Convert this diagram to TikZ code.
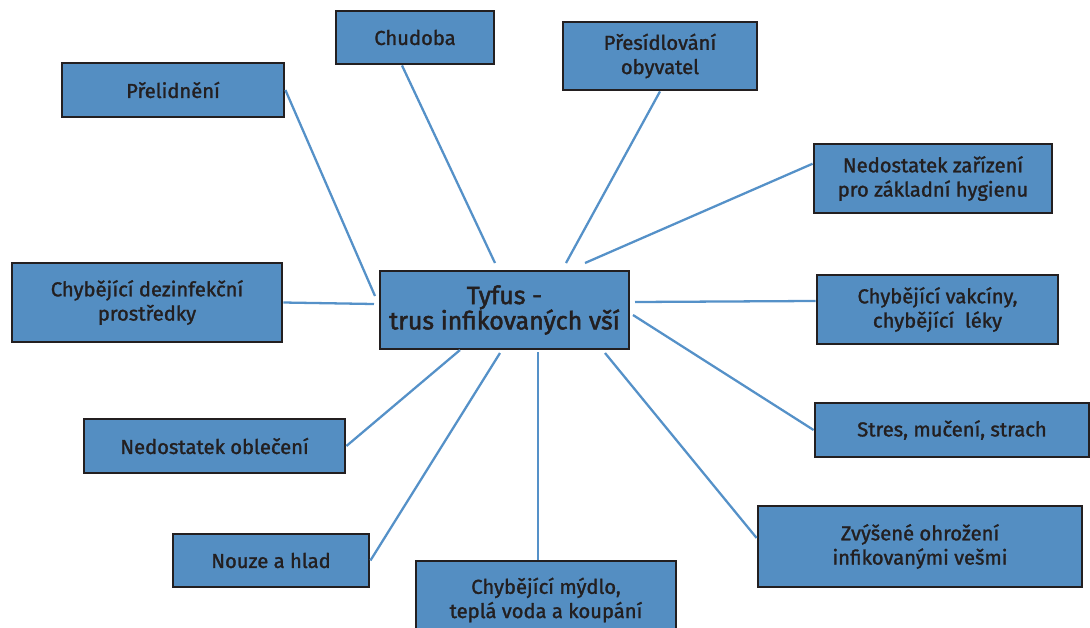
\documentclass[tikz,border=0pt]{standalone}
\usepackage{fontspec}
\setmainfont{Fira Sans}[FakeBold=1.4]
\newfontfamily\titrefont{Fira Sans}[FakeBold=2]
\definecolor{boite}{RGB}{84,142,194}
\definecolor{trait}{RGB}{85,145,200}
\definecolor{encre}{RGB}{35,31,32}
\begin{document}
\begin{tikzpicture}[x=0.02cm, y=-0.02cm]
			\tikzset{cause/.style={rectangle, draw=encre, fill=boite, line width=1.6pt, text=encre, align=center, inner sep=0pt, font=\fontsize{11.5}{13.8}\selectfont},
			lien/.style={draw=trait, line width=1.3pt}};

			\clip (0,0) rectangle (1090,627);

			\node[cause, minimum width=4.98cm, minimum height=1.56cm, font=\titrefont\fontsize{14.2}{14.4}\selectfont] (hub) at (504.5,310) {Tyfus -\\trus infikovaných vší};

			\foreach \name/\x/\y/\w/\h/\txt in {chud/415/37.5/158/53/Chudoba, prel/173/90/222/54/Přelidnění,
				pres/660/56/194/68/Přesídlování\\obyvatel, zar/933/178.5/238/69/Nedostatek zařízení\\pro základní hygienu,
				dez/147/302.5/270/79/Chybějící dezinfekční\\prostředky, vak/937.5/309.5/241/69/{Chybějící vakcíny,\\chybějící\ \ léky},
				stres/952/430/274/54/{Stres, mučení, strach}, zvy/920/546.5/324/81/Zvýšené ohrožení\\infikovanými vešmi,
				obl/214.5/446/261/54/Nedostatek oblečení, nouze/271/560.5/196/53/Nouze a hlad,
				myd/546/600/260/78/{Chybějící mýdlo,\\teplá voda a koupání}}{
				\node[cause, minimum width=\w*0.02cm, minimum height=\h*0.02cm] (\name) at (\x,\y) {\txt};
			}

			\foreach \name/\anc/\x/\y in {chud/-115/495/263, prel/east/375/296, pres/south/566/263, zar/173/585/263,
				dez/east/374/304, vak/176.5/635/302, stres/west/633/315, zvy/177/605/353,
				obl/east/460/350, nouze/east/500/353}{
				\coordinate (h-\name) at (\x,\y);
				\draw[lien] (\name.\anc) -- (h-\name);
			}
			\coordinate (h-myd) at (538,352);
			\draw[lien] (h-myd) -- (h-myd |- myd.north);

		\end{tikzpicture}
\end{document}
